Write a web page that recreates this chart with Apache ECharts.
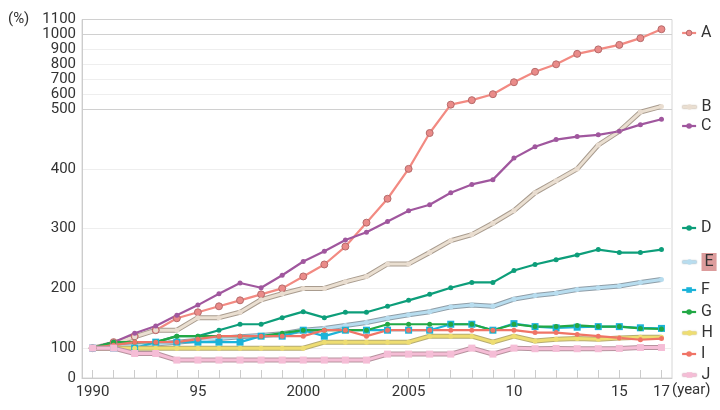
<!DOCTYPE html>
<html><head><meta charset="utf-8">
<script src="https://cdn.jsdelivr.net/npm/echarts@6/dist/echarts.min.js"></script>
<style>html,body{margin:0;padding:0;background:#fff}#c{width:720px;height:410px}</style>
</head><body><div id="c"></div>
<script>
const years = ['1990','1991','1992','1993','1994','1995','1996','1997','1998','1999','2000','2001','2002','2003','2004','2005','2006','2007','2008','2009','2010','2011','2012','2013','2014','2015','2016','2017'];
const labelYears = ['1990','1995','2000','2005','2010','2015','2017'];
const labelTexts = ['1990','95','2000','2005','10','15','17'];
const yTicks = [0,100,200,300,400,500,600,700,800,900,1000,1100];
const names = ['A','B','C','D','E','F','G','H','I','J'];
const dataA = [100,110,120,130,150,160,170,180,190,200,220,240,270,310,350,400,460,530,560,600,680,750,800,870,900,930,975,1035];
const dataB = [100,108,119,130,130,151,151,160,181,191,200,200,211,220,241,241,260,280,290,309,330,360,380,400,440,463,495,518];
const dataC = [100,110,125,137,155,172,191,209,201,222,245,262,281,294,312,330,340,360,374,382,418,437,449,454,457,463,474,483];
const dataD = [100,110,110,110,120,120,130,140,140,151,161,151,160,160,170,180,190,201,210,210,230,240,248,256,265,260,260,265];
const dataE = [100,102,104,107,110,113,116,119,121,124,130,133,138,143,150,156,161,169,172,170,182,188,192,198,201,204,210,215];
const dataF = [100,100,100,110,110,110,110,110,120,120,130,120,130,130,130,130,130,140,140,130,141,136,134,135,136,136,134,133];
const dataG = [100,110,110,110,120,120,120,120,120,125,130,130,130,130,140,140,140,140,140,130,140,136,136,138,136,136,133,132];
const dataH = [100,100,100,100,100,100,100,100,100,100,100,110,110,110,110,110,120,120,120,110,120,112,115,116,115,117,118,118];
const dataI = [100,105,110,110,110,115,120,120,120,120,120,130,130,120,130,130,130,130,130,130,130,126,126,123,120,117,114,116];
const dataJ = [100,100,82,82,60,60,60,60,60,60,60,60,60,60,80,80,80,80,100,80,100,98,99,98,98,99,101,101];

// piecewise-linear (broken) value scale
function tf(v){ if (v <= 100) return v*0.5; if (v <= 500) return 50 + (v-100); return 450 + (v-500)*0.25; }

const FONT = 'Roboto, "Noto Sans", sans-serif';

const styles = {
  A:{line:'#f28a82', fill:'#ea8b89', border:'#b56a6a', sym:'circle', size:7},
  B:{line:'#eadfd1', fill:'#e9ddd0', out:'#a99c8f', sym:'circle', size:5},
  C:{line:'#a0579e', fill:'#a0579e', sym:'circle', size:5},
  D:{line:'#0d9e7a', fill:'#0d9e7a', sym:'circle', size:5},
  E:{line:'#b8ddef', fill:'#b8ddef', out:'#8f9ea8', sym:'circle', size:5},
  F:{line:'#1bb3d9', fill:'#1bb3d9', sym:'rect', size:7},
  G:{line:'#22a845', fill:'#22a845', sym:'circle', size:5},
  H:{line:'#eedd72', fill:'#eedd72', out:'#b7ad72', sym:'circle', size:5},
  I:{line:'#f07466', fill:'#f07466', sym:'circle', size:5},
  J:{line:'#f5bdd6', fill:'#f5bdd6', out:'#b8939f', sym:'rect', size:7}
};
const dataMap = {A:dataA,B:dataB,C:dataC,D:dataD,E:dataE,F:dataF,G:dataG,H:dataH,I:dataI,J:dataJ};

const series = [];
names.forEach(n => {
  const s = styles[n], d = dataMap[n];
  if (s.out) {
    series.push({type:'line', name:n+'_outline', data:d.map(tf), symbol:'none', silent:true,
      lineStyle:{width:5, color:s.out}, emphasis:{disabled:true}, animation:false});
  }
  series.push({type:'line', name:n, data:d.map(tf), symbol:s.sym, symbolSize:s.size,
    lineStyle:{width: s.out ? 3 : 2.2, color:s.line},
    itemStyle: s.border ? {color:s.fill, borderColor:s.border, borderWidth:1} : {color:s.fill, borderWidth:0},
    emphasis:{disabled:true}, animation:false});
});

const legendCenters = [30,104,123,225,258,287,309,330,351,372];
const legends = names.map((n,i) => {
  const s = styles[n];
  return {
    data:[{name:n,
      itemStyle: s.border ? {color:s.fill, borderColor:s.border, borderWidth:1} : {color:s.fill, borderColor:s.fill, borderWidth:0},
      lineStyle: s.out ? {color:s.line, width:3, shadowColor:s.out, shadowBlur:1.5} : {color:s.line, width:2.2}}],
    left:676, top:legendCenters[i]-10, itemWidth:14, itemHeight:7, selectedMode:false,
    textStyle: Object.assign({fontSize:16, color:'#333', fontFamily:FONT},
      n === 'E' ? {backgroundColor:'#dc9c9c', padding:[1,3,1,3]} : {})
  };
});

const splitColors = yTicks.map(v => (v === 500 || v >= 1000) ? '#d0d0d0' : (v === 0 ? 'rgba(0,0,0,0)' : '#eeeeee'));

const chart = echarts.init(document.getElementById('c'));
chart.setOption({
  animation:false,
  grid:{left:82, right:48, top:19.5, bottom:32, show:true, borderColor:'#d6d6d6', borderWidth:1},
  legend: legends,
  xAxis:{
    type:'category', data:years, boundaryGap:true,
    axisLine:{lineStyle:{color:'#cccccc'}},
    axisTick:{show:true, inside:true, length:8, alignWithLabel:true, interval:0, lineStyle:{color:'#cccccc'}},
    axisLabel:{interval:0, margin:7, fontSize:15, color:'#333', fontFamily:FONT,
      formatter:(v) => { const k = labelYears.indexOf(v); return k >= 0 ? labelTexts[k] : ''; }},
    splitLine:{show:false}
  },
  yAxis:{
    type:'value', min:0, max:tf(1100),
    axisLine:{show:true, lineStyle:{color:'#cccccc'}},
    axisTick:{show:false, customValues: yTicks.map(tf)},
    axisLabel:{customValues: yTicks.map(tf), margin:6, fontSize:15, color:'#333', fontFamily:FONT, lineHeight:15,
      formatter:(v) => { let best = yTicks[0]; yTicks.forEach(t => { if (Math.abs(tf(t)-v) < Math.abs(tf(best)-v)) best = t; }); return String(best); }},
    splitLine:{show:true, lineStyle:{color:splitColors, width:1}}
  },
  graphic:[
    {type:'text', left:8, top:12, style:{text:'(%)', fontSize:15, fill:'#333', fontFamily:FONT}},
    {type:'text', left:672, top:383, style:{text:'(year)', fontSize:15, fill:'#333', fontFamily:FONT}}
  ],
  series: series
});
</script>
</body></html>
